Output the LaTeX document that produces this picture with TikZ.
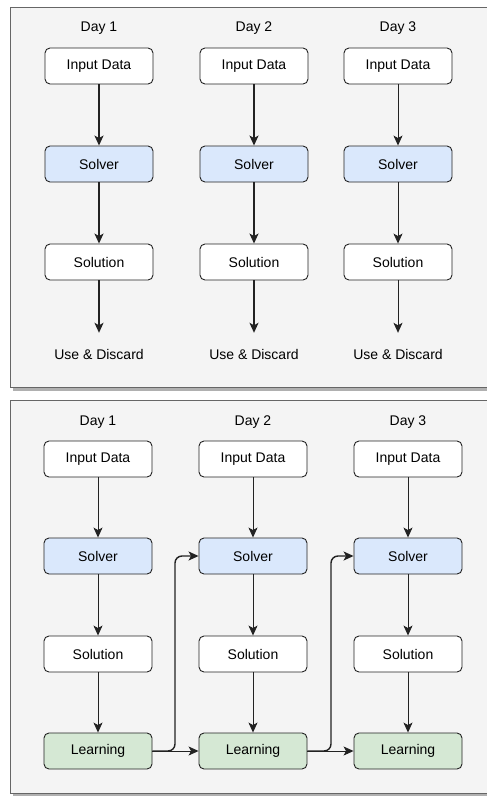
\documentclass[tikz,border=0pt]{standalone}
\usepackage{fontspec}
\setmainfont{Liberation Sans}
\usetikzlibrary{arrows.meta}
\definecolor{panelbg}{HTML}{F4F4F4}
\definecolor{panelline}{HTML}{666666}
\definecolor{shadowc}{HTML}{B0B0B0}
\definecolor{blueFill}{HTML}{DAE8FC}
\definecolor{greenFill}{HTML}{D5E8D4}
\definecolor{edgec}{HTML}{222222}
\begin{document}
\begin{tikzpicture}[x=1pt,y=-1pt,
  box/.style={draw=edgec, line width=0.9pt, rounded corners=5pt, minimum width=108pt, minimum height=36pt, inner sep=0pt, fill=white, font=\fontsize{14}{16}\selectfont},
  bluebox/.style={box, fill=blueFill},
  greenbox/.style={box, fill=greenFill},
  lbl/.style={inner sep=0pt, font=\fontsize{14}{16}\selectfont},
  uselbl/.style={inner sep=0pt, minimum height=42pt, font=\fontsize{14}{16}\selectfont},
  arr/.style={draw=edgec, line width=0.9pt, -{Stealth[length=10pt,width=9pt,inset=2.5pt]}},
  thickarr/.style={arr, line width=1.6pt},
  fb/.style={arr, line width=1.4pt, rounded corners=7pt}
]
\useasboundingbox (0,0) rectangle (487,796);
\fill[white] (0,0) rectangle (487,796);
% panels
\fill[shadowc] (13,10) rectangle (492,391);
\filldraw[fill=panelbg, draw=panelline, line width=1pt] (10,7) rectangle (495,387);
\fill[shadowc] (13,403) rectangle (492,797);
\filldraw[fill=panelbg, draw=panelline, line width=1pt] (10,400) rectangle (495,793);

% top panel
\node[lbl] (td1) at (99,28) {Day 1};
\node[lbl] (td2) at (254,28) {Day 2};
\node[lbl] (td3) at (398,28) {Day 3};
\node[box] (ti1) at (99,66) {Input Data};
\node[box] (ti2) at (254,66) {Input Data};
\node[box] (ti3) at (398,66) {Input Data};
\node[bluebox] (ts1) at (99,164) {Solver};
\node[bluebox] (ts2) at (254,164) {Solver};
\node[bluebox] (ts3) at (398,164) {Solver};
\node[box] (to1) at (99,262) {Solution};
\node[box] (to2) at (254,262) {Solution};
\node[box] (to3) at (398,262) {Solution};
\node[uselbl] (tu1) at (99,354) {Use \& Discard};
\node[uselbl] (tu2) at (254,354) {Use \& Discard};
\node[uselbl] (tu3) at (398,354) {Use \& Discard};
\draw[thickarr] (ti1) -- (ts1);
\draw[thickarr] (ts1) -- (to1);
\draw[thickarr] (to1) -- (tu1);
\draw[thickarr] (ti2) -- (ts2);
\draw[thickarr] (ts2) -- (to2);
\draw[thickarr] (to2) -- (tu2);
\draw[arr] (ti3) -- (ts3);
\draw[arr] (ts3) -- (to3);
\draw[arr] (to3) -- (tu3);

% bottom panel
\node[lbl] (bd1) at (98,422) {Day 1};
\node[lbl] (bd2) at (253,422) {Day 2};
\node[lbl] (bd3) at (408,422) {Day 3};
\node[box] (bi1) at (98,459) {Input Data};
\node[box] (bi2) at (253,459) {Input Data};
\node[box] (bi3) at (408,459) {Input Data};
\node[bluebox] (bs1) at (98,556) {Solver};
\node[bluebox] (bs2) at (253,556) {Solver};
\node[bluebox] (bs3) at (408,556) {Solver};
\node[box] (bo1) at (98,654) {Solution};
\node[box] (bo2) at (253,654) {Solution};
\node[box] (bo3) at (408,654) {Solution};
\node[greenbox] (bl1) at (98,751) {Learning};
\node[greenbox] (bl2) at (253,751) {Learning};
\node[greenbox] (bl3) at (408,751) {Learning};
\foreach \i in {1,2,3}{
  \draw[arr] (bi\i) -- (bs\i);
  \draw[arr] (bs\i) -- (bo\i);
  \draw[arr] (bo\i) -- (bl\i);
}
\draw[arr] (bl1) -- (bl2);
\draw[arr] (bl2) -- (bl3);
\coordinate (j1a) at (175,751);
\coordinate (j1b) at (175,556);
\coordinate (j2a) at (331,751);
\coordinate (j2b) at (331,556);
\draw[fb] (bl1.east) -- (j1a) -- (j1b) -- (bs2.west);
\draw[fb] (bl2.east) -- (j2a) -- (j2b) -- (bs3.west);
\end{tikzpicture}
\end{document}
